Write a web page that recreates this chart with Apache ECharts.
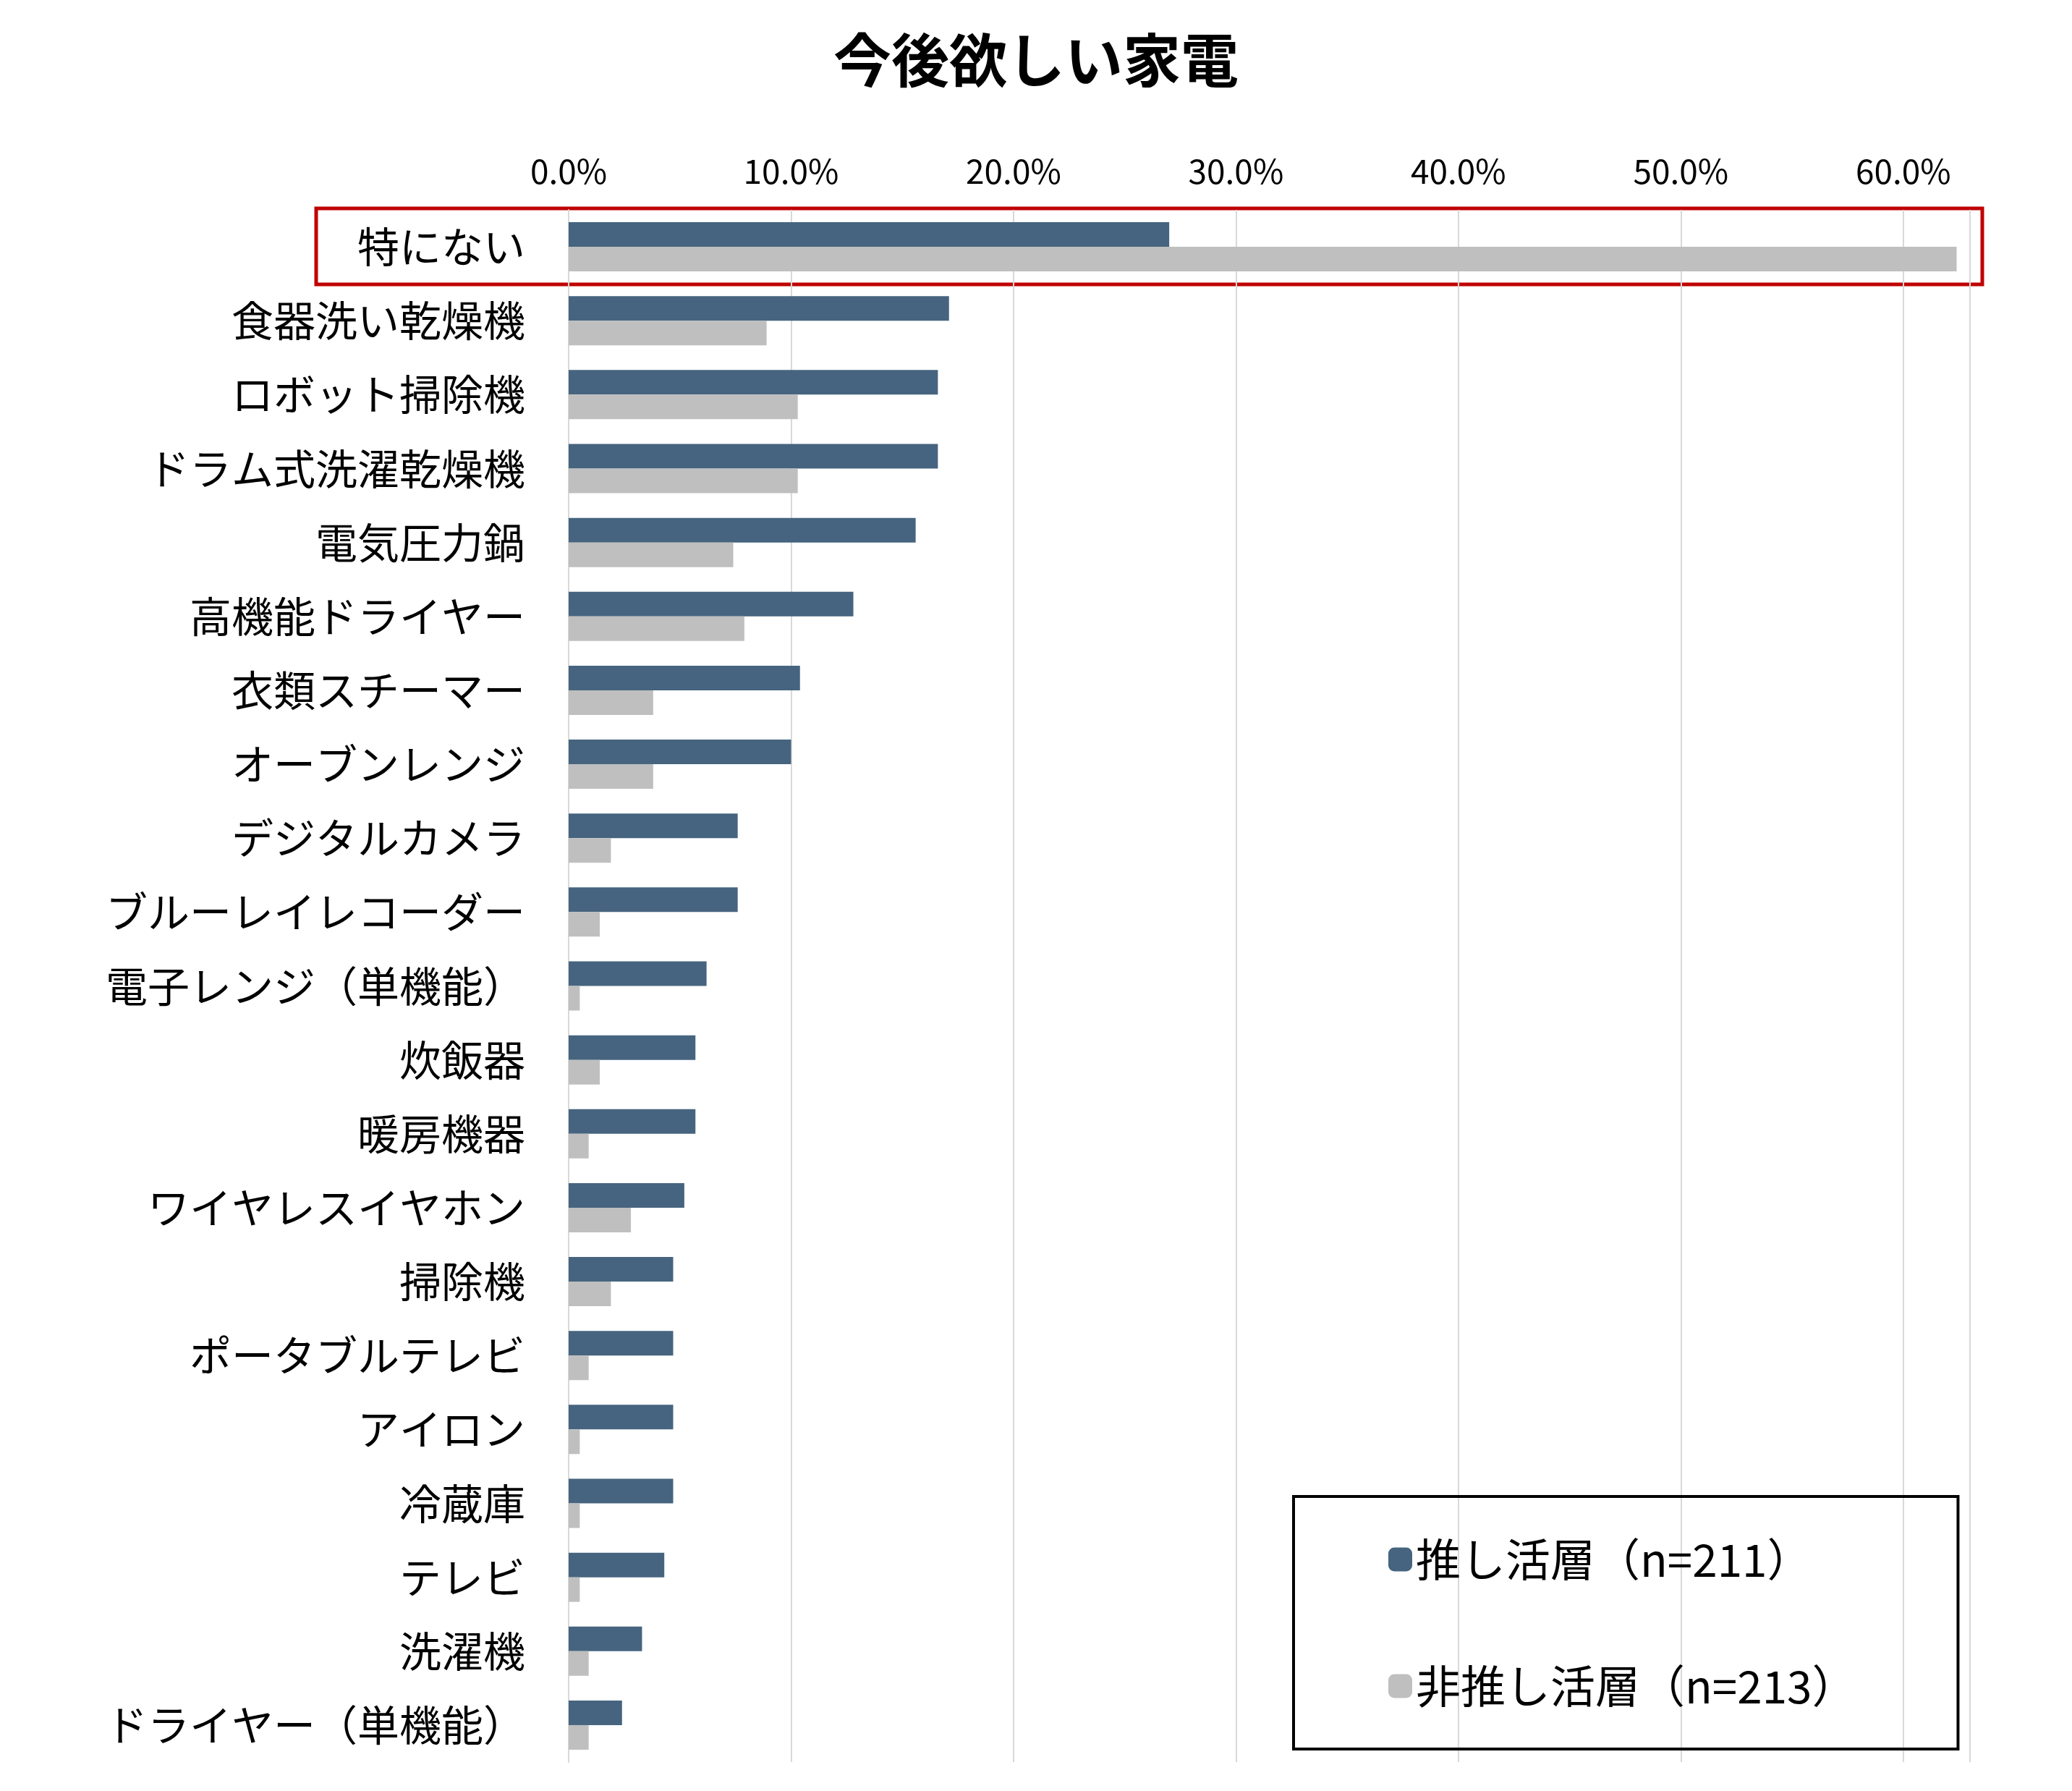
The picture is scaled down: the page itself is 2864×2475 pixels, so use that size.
<!DOCTYPE html>
<html>
<head>
<meta charset="utf-8">
<script src="https://cdn.jsdelivr.net/npm/echarts@6/dist/echarts.min.js"></script>
<style>html,body{margin:0;padding:0;background:#fff}#main{width:2864px;height:2475px}</style>
</head>
<body>
<div id="main"></div>
<script>
var categories = ['特にない', '食器洗い乾燥機', 'ロボット掃除機', 'ドラム式洗濯乾燥機', '電気圧力鍋', '高機能ドライヤー',
    '衣類スチーマー', 'オーブンレンジ', 'デジタルカメラ', 'ブルーレイレコーダー', '電子レンジ（単機能）', '炊飯器',
    '暖房機器', 'ワイヤレスイヤホン', '掃除機', 'ポータブルテレビ', 'アイロン', '冷蔵庫', 'テレビ', '洗濯機', 'ドライヤー（単機能）'];
// 推し活層 (n=211)
var oshiValues = [27.0, 17.1, 16.6, 16.6, 15.6, 12.8, 10.4, 10.0, 7.6, 7.6, 6.2, 5.7, 5.7, 5.2, 4.7, 4.7, 4.7, 4.7, 4.3, 3.3, 2.4];
// 非推し活層 (n=213)
var nonOshiValues = [62.4, 8.9, 10.3, 10.3, 7.4, 7.9, 3.8, 3.8, 1.9, 1.4, 0.5, 1.4, 0.9, 2.8, 1.9, 0.9, 0.5, 0.5, 0.5, 0.9, 0.9];

var font = '"Noto Sans CJK JP", "Noto Sans", sans-serif';

var option = {
    animation: false,
    title: {
        text: '今後欲しい家電',
        left: 'center',
        top: 38,
        textStyle: { fontFamily: font, fontSize: 80, fontWeight: 'bold', color: '#000' }
    },
    grid: { left: 786, right: 141, top: 290, bottom: 40 },
    legend: {
        orient: 'vertical',
        left: 1788,
        top: 2068,
        padding: [56, 140, 56, 131],
        itemGap: 113,
        itemWidth: 33,
        itemHeight: 33,
        borderColor: '#000',
        borderWidth: 4,
        textStyle: { fontFamily: font, fontSize: 62, color: '#000' },
        data: ['推し活層（n=211）', '非推し活層（n=213）']
    },
    xAxis: {
        type: 'value',
        position: 'top',
        min: 0,
        max: 63,
        interval: 10,
        axisLine: { show: false },
        axisTick: { show: false },
        splitLine: { lineStyle: { color: '#d9d9d9', width: 2 } },
        axisLabel: {
            showMaxLabel: false,
            margin: 30,
            fontFamily: font,
            fontSize: 46,
            color: '#000',
            formatter: function (v) { return v.toFixed(1) + '%'; }
        }
    },
    yAxis: {
        type: 'category',
        inverse: true,
        data: categories,
        axisLine: { lineStyle: { color: '#d9d9d9', width: 2 } },
        axisTick: { show: false },
        axisLabel: { margin: 60, fontFamily: font, fontSize: 58, color: '#000' }
    },
    series: [{
        name: '推し活層（n=211）',
        type: 'bar',
        data: oshiValues,
        barWidth: 34,
        barGap: '0%',
        itemStyle: { color: '#46647f' }
    }, {
        name: '非推し活層（n=213）',
        type: 'bar',
        data: nonOshiValues,
        barWidth: 34,
        itemStyle: { color: '#bfbfbf' }
    }],
    graphic: [{
        type: 'rect',
        shape: { x: 437, y: 288, width: 2303, height: 105 },
        style: { fill: 'none', stroke: '#c00000', lineWidth: 5 }
    }]
};

var myChart = echarts.init(document.getElementById('main'));
myChart.setOption(option);
</script>
</body>
</html>
